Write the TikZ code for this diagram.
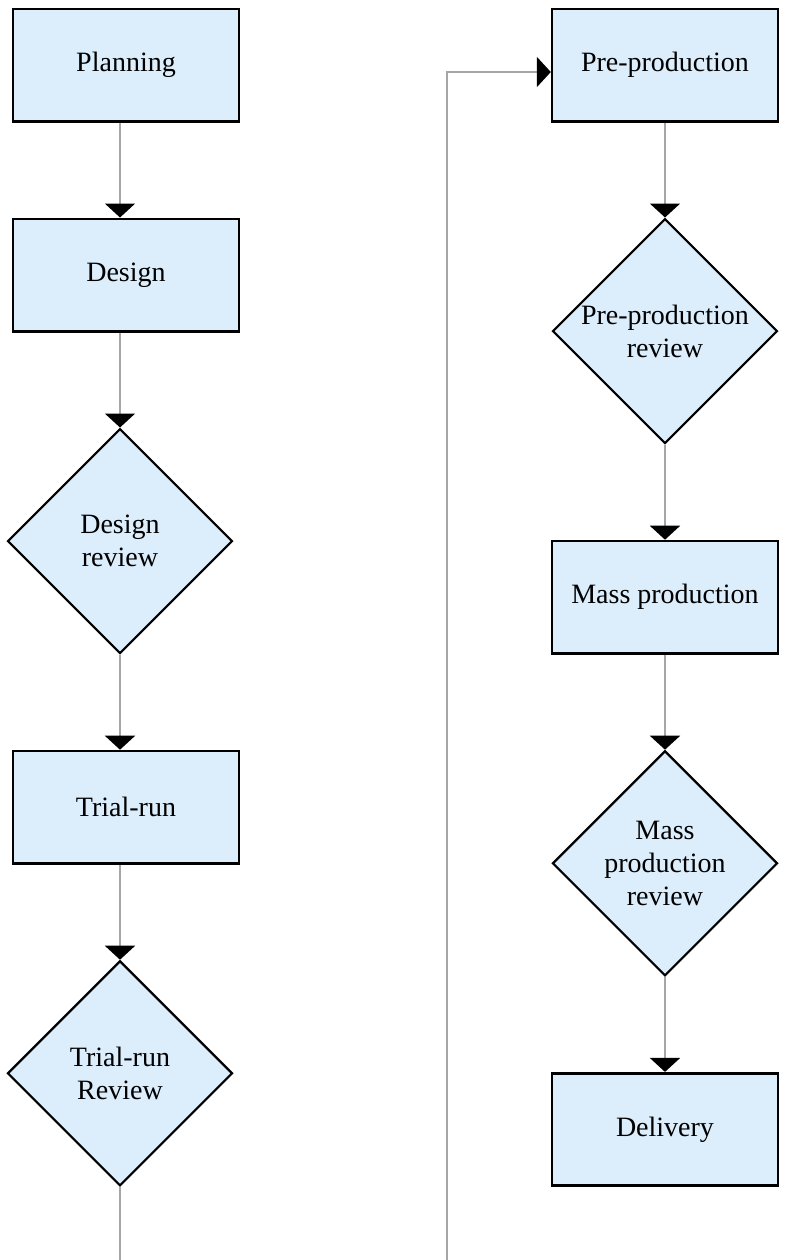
\documentclass[tikz,border=0pt]{standalone}
\usepackage{fontspec}
\setmainfont{Liberation Serif}
\usetikzlibrary{positioning,shapes.geometric,arrows.meta}
\definecolor{stepfill}{HTML}{DCEDFB}
\definecolor{linkgray}{HTML}{A6A6A6}

\begin{document}
\begin{tikzpicture}[node distance=47.5pt,
	boxb/.style={
	  draw=black,
	  line width=1.3pt,
	  fill=stepfill,
	  minimum width=112.9pt,
	  minimum height=56.2pt,
	  font=\fontsize{14}{16.5}\selectfont,
	  align=center
	},
	decisionb/.style={
	  boxb,
	  diamond,
	  line width=1.1pt,
	  inner sep=0pt,
	  minimum width=112.5pt,
	  minimum height=112.5pt
	},
	flowb/.style={
	  draw=linkgray,
	  line width=1.1pt,
	  -{Triangle[width=15pt,length=7pt,color=black]}
	}]

	\useasboundingbox (0,0) rectangle (392pt,-630pt);

	% left column
	\node[boxb] (Planning) at (63pt,-32.5pt) {Planning};
	\node[boxb,below=of Planning] (Design) {Design};
	\node[decisionb,below=of Design,xshift=-3pt] (DesignRev) {Design\\review};
	\node[boxb,below=of DesignRev,xshift=3pt] (TrialRun) {Trial-run};
	\node[decisionb,below=of TrialRun,xshift=-3pt] (TrialRev) {Trial-run\\Review};

	% right column
	\node[boxb] (PreProd) at (332.5pt,-32.5pt) {Pre-production};
	\node[decisionb,below=of PreProd] (PreProdRev) {Pre-production\\review};
	\node[boxb,below=of PreProdRev] (MassProd) {Mass production};
	\node[decisionb,below=of MassProd] (MassRev) {Mass\\production\\review};
	\node[boxb,below=of MassRev] (Delivery) {Delivery};

	\coordinate (Loop) at (223.3pt,-650pt);

	\draw[flowb] (DesignRev.north |- Planning.south) -- (DesignRev.north |- Design.north);
	\draw[flowb] (DesignRev.north |- Design.south) -- (DesignRev.north);
	\draw[flowb] (DesignRev.south) -- (DesignRev.south |- TrialRun.north);
	\draw[flowb] (TrialRev.north |- TrialRun.south) -- (TrialRev.north);
	\draw[flowb] (TrialRev.south) |- (Loop) |- ([yshift=-3.5pt]PreProd.west);

	\draw[flowb] (PreProd) -- (PreProdRev);
	\draw[flowb] (PreProdRev) -- (MassProd);
	\draw[flowb] (MassProd) -- (MassRev);
	\draw[flowb] (MassRev) -- (Delivery);
\end{tikzpicture}
\end{document}
